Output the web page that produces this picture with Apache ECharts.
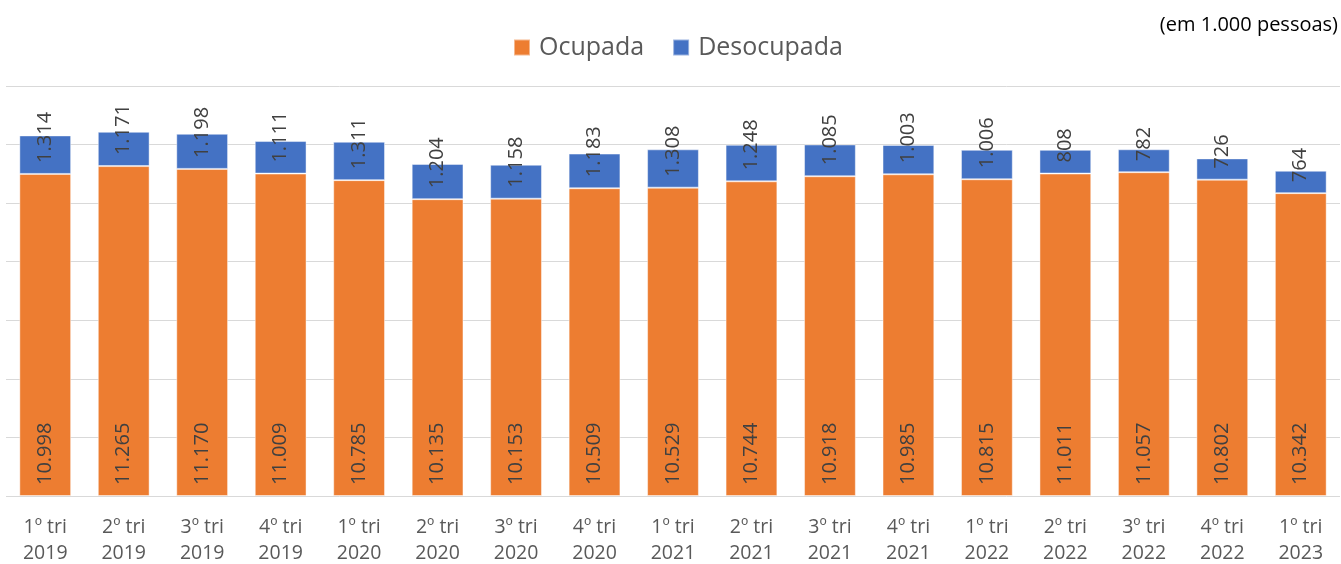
<!DOCTYPE html>
<html>
<head>
<meta charset="utf-8">
<script src="https://cdn.jsdelivr.net/npm/echarts@6/dist/echarts.min.js"></script>
<style>
html,body{margin:0;padding:0;background:#fff;}
#chart{width:1341px;height:564px;}
</style>
</head>
<body>
<div id="chart"></div>
<script>
const categories = ['1º tri\n2019','2º tri\n2019','3º tri\n2019','4º tri\n2019','1º tri\n2020','2º tri\n2020','3º tri\n2020','4º tri\n2020','1º tri\n2021','2º tri\n2021','3º tri\n2021','4º tri\n2021','1º tri\n2022','2º tri\n2022','3º tri\n2022','4º tri\n2022','1º tri\n2023'];
const ocupada = [10998,11265,11170,11009,10785,10135,10153,10509,10529,10744,10918,10985,10815,11011,11057,10802,10342];
const desocupada = [1314,1171,1198,1111,1311,1204,1158,1183,1308,1248,1085,1003,1006,808,782,726,764];
const unitNote = '(em 1.000 pessoas)';

function fmt(v){ return String(v).replace(/\B(?=(\d{3})+(?!\d))/g,'.'); }

const FONT = "'Open Sans', 'Noto Sans', sans-serif";
const labelCfg = {
  show: true,
  position: 'insideBottom',
  rotate: 90,
  align: 'left',
  verticalAlign: 'middle',
  distance: 11,
  color: '#404040',
  fontSize: 20,
  fontFamily: FONT,
  formatter: p => fmt(p.value)
};

const chart = echarts.init(document.getElementById('chart'), null, {renderer:'canvas'});
chart.setOption({
  animation: false,
  backgroundColor: '#fff',
  title: {
    text: unitNote,
    right: -2,
    top: 10,
    textStyle: {color:'#000', fontSize: 20, fontWeight: 'normal', fontFamily: FONT}
  },
  legend: {
    data: ['Ocupada','Desocupada'],
    left: 508,
    top: 30,
    itemWidth: 16,
    itemHeight: 16,
    itemGap: 28,
    icon: 'rect',
    textStyle: {color:'#595959', fontSize: 25, fontFamily: FONT, padding:[0,0,0,4]}
  },
  grid: {left: 6, right: 1, top: 86, bottom: 68, containLabel: false, outerBoundsMode: 'none'},
  xAxis: {
    type: 'category',
    data: categories,
    axisLine: {show: false},
    axisTick: {show: false},
    axisLabel: {color:'#595959', fontSize: 19.5, fontFamily: FONT, lineHeight: 26, margin: 18, interval: 0}
  },
  yAxis: {
    type: 'value',
    min: 0,
    max: 14000,
    interval: 2000,
    axisLabel: {show: false},
    axisLine: {show: false},
    axisTick: {show: false},
    splitLine: {lineStyle: {color:'#D9D9D9', width: 1}}
  },
  series: [
    {
      name: 'Ocupada', type: 'bar', stack: 'total', data: ocupada,
      barCategoryGap: '34%',
      itemStyle: {color:'#ED7D31', borderColor:'rgba(255,255,255,0.45)', borderWidth: 1},
      label: labelCfg
    },
    {
      name: 'Desocupada', type: 'bar', stack: 'total', data: desocupada,
      barCategoryGap: '34%',
      itemStyle: {color:'#4472C4', borderColor:'rgba(255,255,255,0.45)', borderWidth: 1},
      label: labelCfg
    }
  ]
});
</script>
</body>
</html>
